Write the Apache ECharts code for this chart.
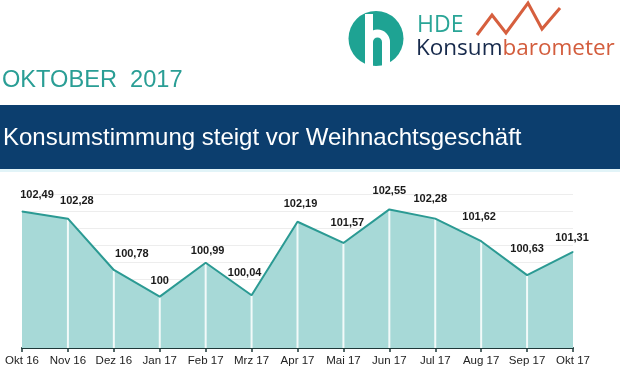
<!DOCTYPE html>
<html>
<head>
<meta charset="utf-8">
<script src="https://cdn.jsdelivr.net/npm/echarts@6/dist/echarts.min.js"></script>
<style>html,body{margin:0;padding:0;background:#fff;}#c{width:620px;height:368px;}</style>
</head>
<body>
<div id="c"></div>
<script>
// ---- data ----
var months = ['Okt 16','Nov 16','Dez 16','Jan 17','Feb 17','Mrz 17','Apr 17','Mai 17','Jun 17','Jul 17','Aug 17','Sep 17','Okt 17'];
var values = [102.49, 102.28, 100.78, 100, 100.99, 100.04, 102.19, 101.57, 102.55, 102.28, 101.62, 100.63, 101.31];
var yMin = 98.5, yMax = 103, yStep = 0.5;
var headline = 'Konsumstimmung steigt vor Weihnachtsgeschäft';
var period = 'OKTOBER  2017';
// label nudges (style only)
var labelNudge = [[15,0],[9,-2],[18,0],[0,0],[2,4],[-7,-6],[3,-2],[4,-4],[0,-2],[-5,-4],[-2,-8],[0,-10],[-1,2]];

var FONT = "'Liberation Sans', Arial, sans-serif";
var LOGOFONT = "'Open Sans', sans-serif";
var chart = echarts.init(document.getElementById('c'), null, {renderer: 'canvas'});

var lineData = values.map(function (v, i) {
  return { value: v, label: { offset: labelNudge[i] } };
});
var barData = values.map(function (v, i) {
  return (i === 0 || i === values.length - 1) ? null : v;
});

chart.setOption({
  animation: false,
  backgroundColor: '#ffffff',
  grid: { left: 22, right: 47, top: 194, bottom: 20, containLabel: false },
  xAxis: {
    type: 'category',
    data: months,
    boundaryGap: false,
    axisLine: { lineStyle: { color: '#1e3838', width: 2 } },
    axisTick: { show: true, length: 4, lineStyle: { color: '#1e3838', width: 1.5 } },
    axisLabel: { interval: 0, color: '#222', fontSize: 11.5, margin: 7, fontFamily: FONT },
    splitLine: { show: false }
  },
  yAxis: {
    type: 'value',
    min: yMin, max: yMax, interval: yStep,
    axisLine: { show: false },
    axisTick: { show: false },
    axisLabel: { show: false },
    splitLine: { lineStyle: { color: '#ededed', width: 1 } }
  },
  series: [
    {
      type: 'line', data: values, z: 1, silent: true,
      symbol: 'none',
      lineStyle: { width: 0 },
      areaStyle: { color: '#a7d9d7', opacity: 1 }
    },
    {
      type: 'bar', data: barData, z: 2, silent: true,
      barWidth: 2,
      itemStyle: { color: 'rgba(255,255,255,0.85)' }
    },
    {
      type: 'line', data: lineData, z: 3,
      symbol: 'circle', symbolSize: 1,
      itemStyle: { color: '#2b9a93' },
      lineStyle: { color: '#2b9a93', width: 2 },
      label: {
        show: true, position: 'top', distance: 10,
        color: '#1a1a1a', fontSize: 11, fontWeight: 'bold', fontFamily: FONT,
        formatter: function (p) { return String(p.value).replace('.', ','); }
      }
    }
  ],
  graphic: [
    { type: 'rect', shape: { x: 0, y: 105, width: 620, height: 64 }, style: { fill: '#0c3e6e' } },
    { type: 'rect', shape: { x: 0, y: 169, width: 620, height: 3 }, style: { fill: '#e2f4f8' } },
    { type: 'text', x: 3, y: 138, style: { text: headline, fill: '#ffffff', font: '24px ' + FONT, verticalAlign: 'middle', align: 'left' } },
    { type: 'text', x: 2, y: 80, style: { text: period, fill: '#2a9e95', font: '23.6px ' + FONT, verticalAlign: 'middle', align: 'left' } },
    // logo
    { type: 'circle', shape: { cx: 376, cy: 38.5, r: 27.5 }, style: { fill: '#1ea393' } },
    { type: 'line', shape: { x1: 369, y1: 14, x2: 369, y2: 72 }, style: { stroke: '#fff', lineWidth: 8 } },
    { type: 'arc', shape: { cx: 377.5, cy: 42, r: 8.5, startAngle: Math.PI, endAngle: 2 * Math.PI }, style: { stroke: '#fff', lineWidth: 8, fill: null } },
    { type: 'line', shape: { x1: 386, y1: 42, x2: 386, y2: 72 }, style: { stroke: '#fff', lineWidth: 8 } },
    { type: 'rect', shape: { x: 340, y: 67, width: 70, height: 8 }, style: { fill: '#fff' } },
    { type: 'text', x: 417, y: 25, style: { text: 'HDE', fill: '#2aa597', font: '23px ' + LOGOFONT, verticalAlign: 'middle' } },
    { type: 'text', x: 416, y: 49, style: {
        text: '{a|Konsum}{b|barometer}', verticalAlign: 'middle',
        rich: {
          a: { fill: '#172a4c', fontSize: 22.5, fontFamily: LOGOFONT },
          b: { fill: '#d35d3d', fontSize: 22.5, fontFamily: LOGOFONT }
        } } },
    { type: 'polyline', shape: { points: [[477,35],[492,15],[506,33],[528,3],[542,29],[560,8]] }, style: { stroke: '#d65f3e', lineWidth: 3, fill: null } }
  ]
});
</script>
</body>
</html>
